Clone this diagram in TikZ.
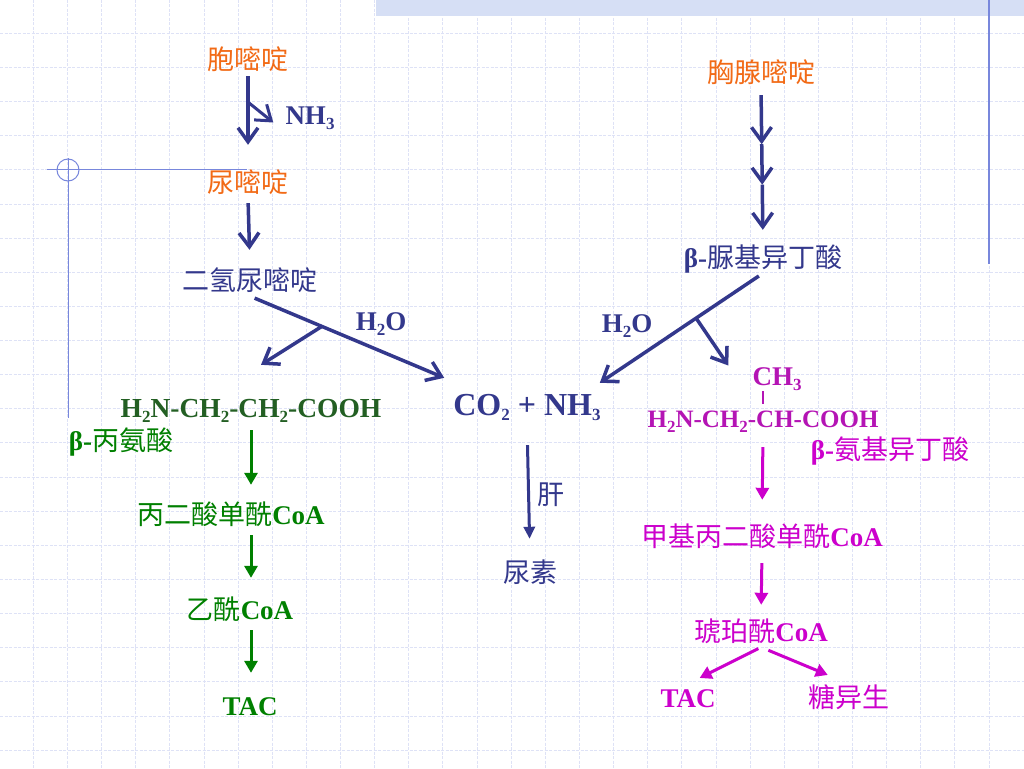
\documentclass[tikz,border=0pt]{standalone}
\usepackage{fontspec}
\setmainfont{Liberation Serif}
\newfontfamily\cjk{Noto Sans CJK SC}
\usetikzlibrary{arrows.meta,calc}
\definecolor{cyorange}{RGB}{242,106,22}
\definecolor{pathblue}{RGB}{51,56,140}
\definecolor{alagreen}{RGB}{0,128,0}
\definecolor{formgreen}{RGB}{35,95,35}
\definecolor{aibmag}{RGB}{204,0,204}
\definecolor{formmag}{RGB}{180,20,180}
\definecolor{gridblue}{RGB}{222,226,246}
\definecolor{frameblue}{RGB}{120,135,220}
\definecolor{bandblue}{RGB}{214,223,245}
\newcommand{\zh}[1]{{\cjk\mdseries #1}}
\newcommand{\chsub}[1]{\raisebox{-5pt}{\fontsize{17}{17}\selectfont #1}}

\begin{document}
\begin{tikzpicture}[x=1pt,y=-1pt,
	txt/.style={anchor=base,inner sep=2pt,text height=21pt,text depth=4pt,font=\fontsize{27}{30}\selectfont\bfseries},
	bigtxt/.style={anchor=base,inner sep=2pt,text height=23pt,text depth=6pt,font=\fontsize{32}{36}\selectfont\bfseries,text=pathblue},
	bluearr/.style={draw=pathblue,line width=3.5pt,-{Straight Barb[length=14pt,width=20pt]}},
	ureaarr/.style={draw=pathblue,line width=3pt,-{Triangle[length=12pt,width=11pt]}},
	greenarr/.style={draw=alagreen,line width=3pt,-{Triangle[length=12pt,width=13pt]}},
	magarr/.style={draw=aibmag,line width=3pt,-{Triangle[length=12pt,width=13pt]}}]
	\useasboundingbox (0,0) rectangle (1024,768);
	\fill[white] (0,0) rectangle (1024,768);
	\foreach \k in {1,...,29} \draw[gridblue,line width=0.9pt,dash pattern=on 3pt off 1.5pt] (\k*34.133-0.8,0) -- (\k*34.133-0.8,768);
	\foreach \k in {1,...,22} \draw[gridblue,line width=0.9pt,dash pattern=on 3pt off 1.5pt] (0,\k*34.133-0.8) -- (1024,\k*34.133-0.8);
	\fill[bandblue] (376,0) rectangle (1024,16);
	\draw[frameblue,line width=1.5pt] (989,0) -- (989,264);
	\draw[frameblue,line width=1pt] (47,169) -- (247,169);
	\draw[frameblue,line width=1pt] (68,158) -- (68,418);
	\draw[frameblue,line width=1pt] (68,170) circle (11pt);

	% uracil / cytosine
	\node[txt,text=cyorange] (cyt) at (248,70) {\zh{胞嘧啶}};
	\node[txt,text=pathblue] (nh3) at (310,124) {NH\chsub{3}};
	\node[txt,text=cyorange] (ura) at (248,192) {\zh{尿嘧啶}};
	\node[txt,text=pathblue] (dhu) at (250,290) {\zh{二氢尿嘧啶}};
	\node[txt,text=pathblue] (h2oa) at (381,330) {H\chsub{2}O};
	\node[bigtxt] (co2) at (527,415) {CO\chsub{2} + NH\chsub{3}};
	\node[txt,text=formgreen,font=\fontsize{27.5}{30}\selectfont\bfseries] (bala) at (251,417) {H\chsub{2}N-CH\chsub{2}-CH\chsub{2}-COOH};
	\node[txt,text=alagreen] (balaname) at (121,450) {β-\zh{丙氨酸}};
	\node[txt,text=alagreen] (malcoa) at (231,524) {\zh{丙二酸单酰}CoA};
	\node[txt,text=alagreen] (acoa) at (240,619) {\zh{乙酰}CoA};
	\node[txt,text=alagreen] (taca) at (250,715) {TAC};
	\node[txt,text=pathblue] (gan) at (551,504) {\zh{肝}};
	\node[txt,text=pathblue] (urea) at (530,582) {\zh{尿素}};

	% thymine
	\node[txt,text=cyorange] (thy) at (761,82) {\zh{胸腺嘧啶}};
	\node[txt,text=pathblue] (bui) at (763,267) {β-\zh{脲基异丁酸}};
	\node[txt,text=pathblue] (h2ob) at (627,332) {H\chsub{2}O};
	\node[txt,text=formmag] (ch3) at (777,385) {CH\chsub{3}};
	\node[txt,text=formmag,font=\fontsize{25}{28}\selectfont\bfseries] (baib) at (763,427) {H\chsub{2}N-CH\chsub{2}-CH-COOH};
	\node[txt,text=aibmag] (baibname) at (890,459) {β-\zh{氨基异丁酸}};
	\node[txt,text=aibmag] (mmcoa) at (762,546) {\zh{甲基丙二酸单酰}CoA};
	\node[txt,text=aibmag] (succ) at (761,641) {\zh{琥珀酰}CoA};
	\node[txt,text=aibmag] (tacb) at (688,707) {TAC};
	\node[txt,text=aibmag] (gng) at (849,707) {\zh{糖异生}};

	\draw[bluearr,shorten >=24pt] (cyt.south) -- (ura.north);
	\coordinate (nhfork) at ($(cyt.south)!0.28!(ura.north)$);
	\draw[bluearr,line width=3pt] (nhfork) -- ([shift={(-10,7)}]nh3.west);
	\draw[bluearr,shorten <=5pt,shorten >=17pt] (ura.south) -- (dhu.north);
	\coordinate (dhutip) at ([shift={(-7,-12)}]co2.north west);
	\draw[bluearr,shorten <=5pt] (dhu.south) -- (dhutip);
	\coordinate (dhufork) at ($(dhu.south)!0.37!(dhutip)$);
	\draw[bluearr] (dhufork) -- ([shift={(10,-29)}]bala.north);
	\draw[ureaarr,shorten <=22pt,shorten >=20pt] (co2.south) -- (urea.north);

	\coordinate (thyone) at ($(thy.south)!0.36!(bui.north)$);
	\coordinate (thytwo) at ($(thy.south)!0.62!(bui.north)$);
	\draw[bluearr,shorten <=7pt] (thy.south) -- (thyone);
	\draw[bluearr] (thyone) -- (thytwo);
	\draw[bluearr,shorten >=14pt] (thytwo) -- (bui.north);
	\coordinate (buitip) at ([shift={(-3,-7)}]co2.north east);
	\draw[bluearr,shorten <=5pt] (bui.south) -- (buitip);
	\coordinate (buifork) at ($(bui.south)!0.41!(buitip)$);
	\draw[bluearr] (buifork) -- ([shift={(-22,-11)}]ch3.west);
	\draw[formmag,line width=2.5pt] (ch3.south -| baib.north) -- (baib.north);

	\draw[greenarr,shorten <=7pt,shorten >=16pt] (bala.south) -- (bala.south |- malcoa.north);
	\draw[greenarr,shorten <=5pt,shorten >=18pt] (bala.south |- malcoa.south) -- (bala.south |- acoa.north);
	\draw[greenarr,shorten <=5pt,shorten >=19pt] (bala.south |- acoa.south) -- (bala.south |- taca.north);

	\draw[magarr,shorten <=14pt,shorten >=23pt] (baib.south) -- (mmcoa.north);
	\draw[magarr,shorten <=11pt,shorten >=13pt] (mmcoa.south) -- (succ.north);
	\draw[magarr,shorten <=3pt,shorten >=13pt] (succ.south) -- (tacb.north);
	\draw[magarr,shorten <=8pt,shorten >=23pt] (succ.south) -- (gng.north);
\end{tikzpicture}
\end{document}
